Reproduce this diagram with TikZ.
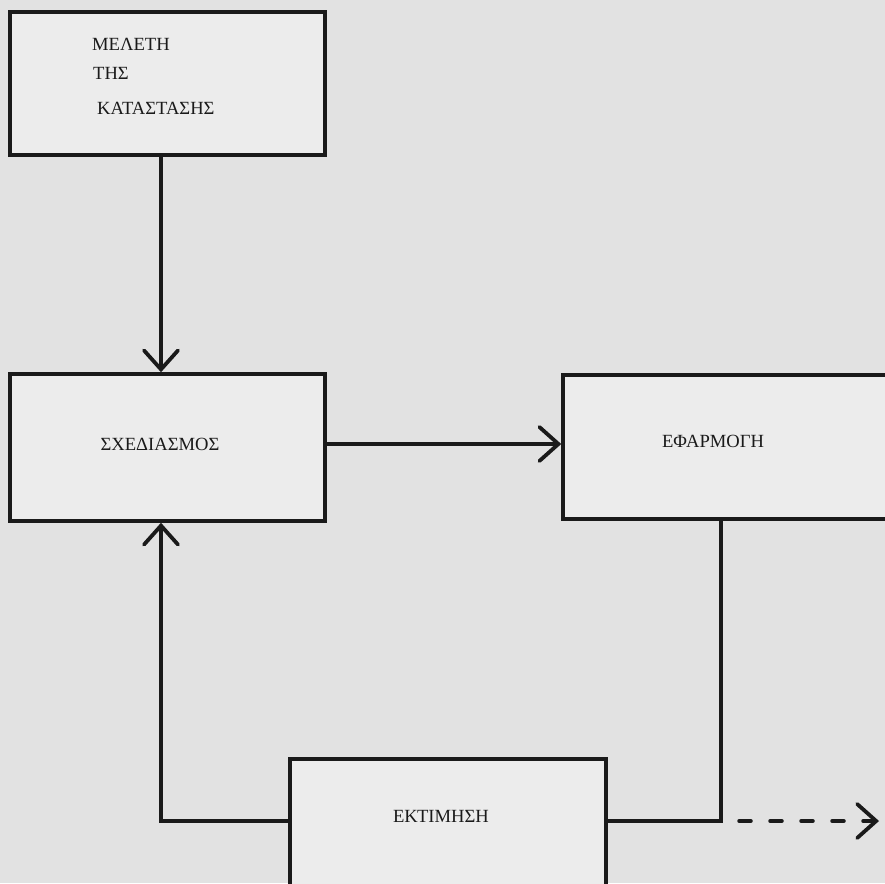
\documentclass[tikz,border=0pt]{standalone}
\usepackage{fontspec}
\setmainfont{Liberation Serif}
\usetikzlibrary{arrows.meta,calc}
\definecolor{paper}{HTML}{E2E2E2}
\definecolor{boxfill}{HTML}{ECECEC}
\definecolor{ink}{HTML}{1A1A1A}
\tikzset{
  box/.style={draw=ink, fill=boxfill, line width=3.5pt, inner sep=0pt, minimum width=#1},
  lbl/.style={font=\fontsize{18.6}{22}\selectfont, text=ink, inner sep=0pt},
  conn/.style={draw=ink, line width=3.5pt},
  vtip/.style={-{Straight Barb[length=19pt,width=34pt,line width=3.8pt,line cap=round]}},
}
\begin{document}
\begin{tikzpicture}[x=1pt,y=-1pt]
\fill[paper] (0,0) rectangle (885,883);
\useasboundingbox (0,0) rectangle (885,883);
\begin{scope}
\clip (0,0) rectangle (885,883);
% boxes
\node[box=315pt, minimum height=143pt] (b1) at (167.5,83.5) {};
\node[box=315pt, minimum height=147pt] (b2) at (167.5,447.5) {};
\node[box=335pt, minimum height=144pt] (b3) at (730.5,447) {};
\node[box=316pt, minimum height=140pt] (b4) at (448,829) {};
% labels
\node[lbl, anchor=west] (t1a) at (92,44) {ΜΕΛΕΤΗ};
\node[lbl, anchor=west] (t1b) at (93,73) {ΤΗΣ};
\node[lbl, anchor=west] (t1c) at (97,108) {ΚΑΤΑΣΤΑΣΗΣ};
\node[lbl] (t2) at (160,444) {ΣΧΕΔΙΑΣΜΟΣ};
\node[lbl] (t3) at (713,441) {ΕΦΑΡΜΟΓΗ};
\node[lbl] (t4) at (441,816) {ΕΚΤΙΜΗΣΗ};
% guide coordinates
\coordinate (xA) at (161,0);
\coordinate (yB) at (0,444);
\coordinate (xC) at (721,0);
\coordinate (yD) at (0,821);
\coordinate (dstart) at (739,821);
\coordinate (dend) at (879,821);
% connectors
\draw[conn, vtip] (b1.south -| xA) -- (b2.north -| xA);
\draw[conn, vtip] (b2.east |- yB) -- (b3.west |- yB);
\draw[conn] (b3.south -| xC) |- (b4.east |- yD);
\draw[conn, vtip] (b4.west |- yD) -| (b2.south -| xA);
\draw[conn, vtip, line cap=round, dash pattern=on 12pt off 19pt] (dstart) -- (dend);
\end{scope}
\end{tikzpicture}
\end{document}
